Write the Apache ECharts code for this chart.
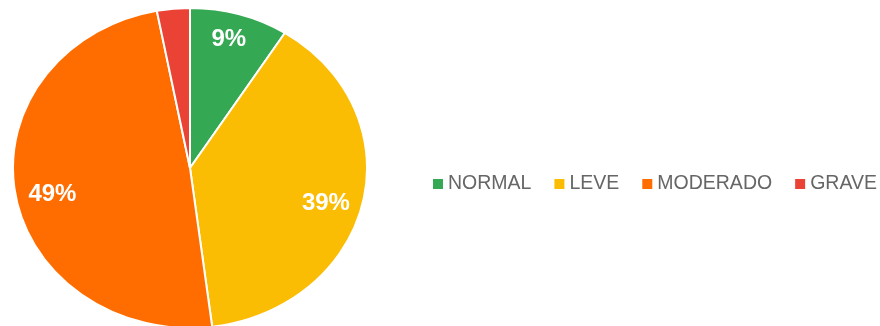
<!DOCTYPE html>
<html>
<head>
<meta charset="utf-8">
<script src="https://cdn.jsdelivr.net/npm/echarts@6/dist/echarts.min.js"></script>
<style>
  html, body { margin: 0; padding: 0; background: #ffffff; }
  #chart { width: 880px; height: 326px; }
</style>
</head>
<body>
<div id="chart"></div>
<script>
// Severity categories and their share of cases
const categories = ['NORMAL', 'LEVE', 'MODERADO', 'GRAVE'];
const values = [9, 39, 49, 3];
const sliceColors = ['#34a853', '#fbbc04', '#ff6d01', '#ea4335'];

const total = values.reduce((a, b) => a + b, 0);
const starts = [];
let acc = 0;
values.forEach(v => { starts.push(acc); acc += v; });

// Pie geometry (slightly flattened ellipse)
const CX = 190, CY = 168, RX = 177, RY = 160;
const LABEL_R = 0.787 * RX, LABEL_CY = 173;
const FONT = "'Liberation Sans', Arial, sans-serif";

const series = categories.map((name, i) => ({
  type: 'custom',
  name: name,
  coordinateSystem: 'none',
  itemStyle: { color: sliceColors[i] },
  data: [[values[i], starts[i]]],
  renderItem: function (params, api) {
    const v = api.value(0), s = api.value(1);
    const a0 = -Math.PI / 2 + 2 * Math.PI * s / total;
    const a1 = -Math.PI / 2 + 2 * Math.PI * (s + v) / total;
    const mid = (a0 + a1) / 2;
    const children = [{
      type: 'sector',
      shape: { cx: CX, cy: CY, r: RX, r0: 0, startAngle: a0, endAngle: a1, clockwise: true },
      originX: CX, originY: CY, scaleY: RY / RX,
      style: { fill: api.visual('color'), stroke: '#ffffff', lineWidth: 2 }
    }];
    if (v / total >= 0.05) {
      children.push({
        type: 'text',
        style: {
          text: Math.round(v / total * 100) + '%',
          x: CX + LABEL_R * Math.cos(mid),
          y: LABEL_CY + LABEL_R * Math.sin(mid),
          fill: '#ffffff', fontSize: 24, fontWeight: 'bold', fontFamily: FONT,
          align: 'center', verticalAlign: 'middle'
        }
      });
    }
    return { type: 'group', children: children };
  }
}));

const chart = echarts.init(document.getElementById('chart'));
chart.setOption({
  animation: false,
  backgroundColor: '#ffffff',
  legend: {
    data: categories,
    left: 433, top: 174,
    padding: 0,
    icon: 'rect', itemWidth: 10, itemHeight: 10, itemGap: 23,
    textStyle: { fontSize: 19.5, color: '#666666', fontFamily: FONT, lineHeight: 20 }
  },
  series: series
});
</script>
</body>
</html>
